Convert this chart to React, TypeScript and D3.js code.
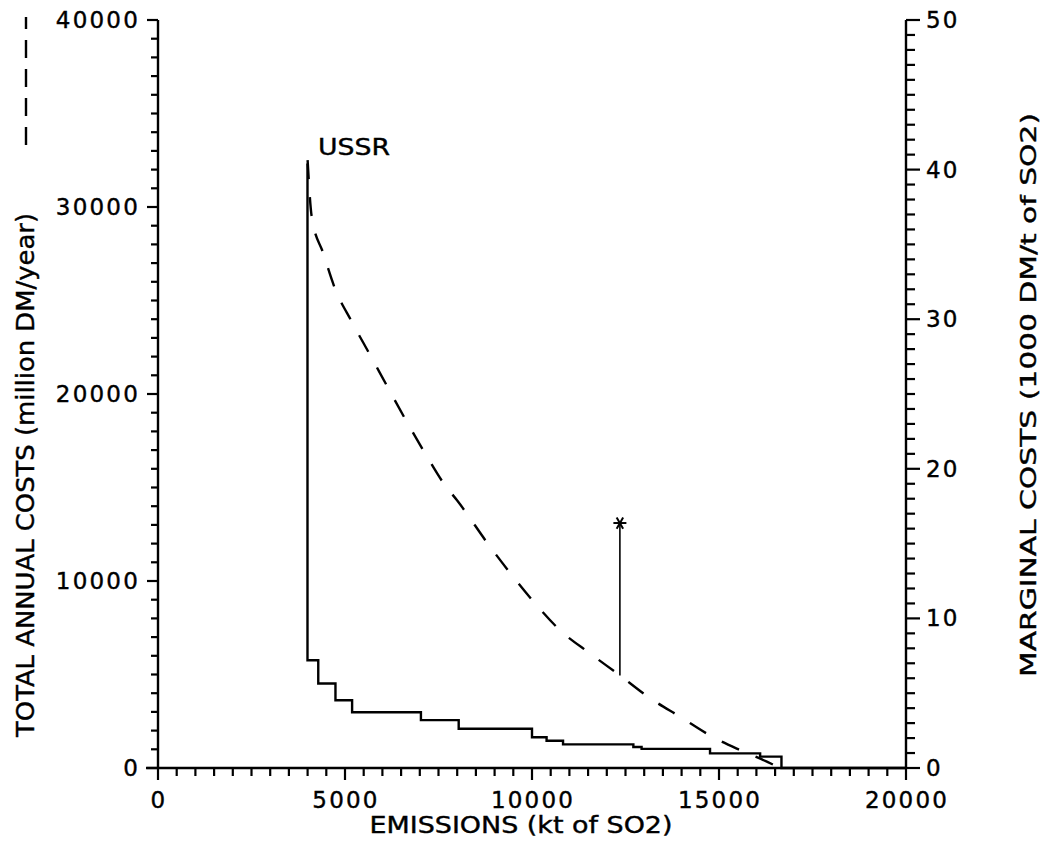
import React from "react";
import * as d3 from "d3";

// Marginal cost curve (right axis, 1000 DM/t of SO2), step function
const marginalX = [3997, 3997, 4285, 4745, 5190, 7030, 8040, 10000, 10390, 10830, 12710, 12930, 14760, 16100, 16670, 20000];
const marginalY = [40.4, 7.2, 5.65, 4.53, 3.73, 3.2, 2.62, 2.06, 1.82, 1.58, 1.4, 1.28, 0.98, 0.76, 0, 0];

// Total annual cost curve (left axis, million DM/year), dashed
const totalX = [4000, 4110, 4420, 4730, 5180, 5670, 6160, 6650, 7140, 7670, 7990, 8880, 9460, 10080, 10790, 11550, 12350, 13160, 13960, 14850, 15560, 16280, 16630];
const totalY = [32510, 29480, 27520, 25650, 23870, 22090, 20300, 18520, 16830, 15130, 14330, 11830, 10320, 8810, 7290, 6130, 4950, 3730, 2740, 1640, 960, 340, 0];

// Marked point (asterisk) and its connection to the total cost curve
const markX = 12350;
const markTop = 13100;
const markBottom = 4950;

const xTicksMajor = [0, 5000, 10000, 15000, 20000];
const leftTicksMajor = [0, 10000, 20000, 30000, 40000];
const rightTicksMajor = [0, 10, 20, 30, 40, 50];

const labelUSSR = "USSR";
const xTitle = "EMISSIONS (kt of SO2)";
const leftTitle = "TOTAL ANNUAL COSTS (million DM/year)";
const rightTitle = "MARGINAL COSTS (1000 DM/t of SO2)";

export default function App() {
  const L = 158, R = 906, T = 20, B = 768;
  const x = d3.scaleLinear().domain([0, 20000]).range([L, R]);
  const yL = d3.scaleLinear().domain([0, 40000]).range([B, T]);
  const yR = d3.scaleLinear().domain([0, 50]).range([B, T]);

  const stepLine = d3
    .line<number>()
    .x((_, i) => x(marginalX[i]))
    .y((d) => yR(d))
    .curve(d3.curveStepAfter);
  const totalLine = d3
    .line<number>()
    .x((_, i) => x(totalX[i]))
    .y((d) => yL(d))
    .curve(d3.curveMonotoneX);

  const font = "DejaVu Sans, Liberation Sans, sans-serif";
  const tickFont = { fontFamily: font, fontSize: 23, letterSpacing: 2.2, stroke: "#000", strokeWidth: 0.4 } as const;

  const xMinor = d3.range(0, 20001, 500);
  const lMinor = d3.range(0, 40001, 1000);
  const rMinor = d3.range(0, 51, 1);

  const axp = x(markX);
  const ay = yL(markTop);
  const ar = 6.5;

  return (
    <svg width={1044} height={844} style={{ position: "absolute", left: 0, top: 0, background: "#fff" }}>
      <rect width={1044} height={844} fill="#fff" />
      {/* axes lines */}
      <g stroke="#000" strokeWidth={2.4} fill="none">
        <line x1={x(0) - 12} x2={x(20000)} y1={B} y2={B} />
        <line x1={L} x2={L} y1={yL(0)} y2={yL(40000)} />
        <line x1={R} x2={R} y1={yR(0)} y2={yR(50)} />
      </g>
      {/* ticks */}
      <g stroke="#000" strokeWidth={2.2}>
        {xMinor.map((v) => (
          <line key={"xm" + v} x1={x(v)} x2={x(v)} y1={B} y2={B + (v % 5000 === 0 ? 12 : 8)} />
        ))}
        {lMinor.map((v) => (
          <line key={"lm" + v} x1={L} x2={L - (v % 10000 === 0 ? 11 : 7)} y1={yL(v)} y2={yL(v)} />
        ))}
        {rMinor.map((v) => (
          <line key={"rm" + v} x1={R} x2={R + (v % 10 === 0 ? 14 : 9)} y1={yR(v)} y2={yR(v)} />
        ))}
      </g>
      {/* tick labels */}
      <g {...tickFont} fill="#000">
        {xTicksMajor.map((v) => (
          <text key={"xl" + v} x={x(v) + 1} y={808} textAnchor="middle">
            {v}
          </text>
        ))}
        {leftTicksMajor.map((v) => (
          <text key={"ll" + v} x={140} y={yL(v) + 8} textAnchor="end">
            {v}
          </text>
        ))}
        {rightTicksMajor.map((v) => (
          <text key={"rl" + v} x={926} y={yR(v) + 8} textAnchor="start">
            {v}
          </text>
        ))}
      </g>
      {/* titles */}
      <text x={521} y={833} textAnchor="middle" fontFamily={font} fontSize={23} stroke="#000" strokeWidth={0.4} textLength={303} lengthAdjust="spacingAndGlyphs">
        {xTitle}
      </text>
      <text
        transform={`translate(34,${(737 + 213) / 2}) rotate(-90)`}
        textAnchor="middle"
        fontFamily={font}
        fontSize={25}
        stroke="#000"
        strokeWidth={0.4}
        textLength={524}
        lengthAdjust="spacingAndGlyphs"
      >
        {leftTitle}
      </text>
      <line x1={26} x2={26} y1={145} y2={17} stroke="#000" strokeWidth={2.4} strokeDasharray="18,11" />
      <text
        transform={`translate(1036,${(677 + 113) / 2}) rotate(-90)`}
        textAnchor="middle"
        fontFamily={font}
        fontSize={22}
        stroke="#000"
        strokeWidth={0.4}
        textLength={564}
        lengthAdjust="spacingAndGlyphs"
      >
        {rightTitle}
      </text>
      {/* curves */}
      <path d={stepLine(marginalY) || ""} fill="none" stroke="#000" strokeWidth={2.4} />
      <path d={totalLine(totalY) || ""} fill="none" stroke="#000" strokeWidth={2.4} strokeDasharray="19,18" />
      {/* marked point */}
      <line x1={axp} x2={axp} y1={ay} y2={yL(markBottom)} stroke="#000" strokeWidth={1.6} />
      <g stroke="#000" strokeWidth={2}>
        {[0, 60, 120].map((a) => {
          const r = (a * Math.PI) / 180;
          return (
            <line
              key={a}
              x1={axp - ar * Math.cos(r)}
              x2={axp + ar * Math.cos(r)}
              y1={ay - ar * Math.sin(r)}
              y2={ay + ar * Math.sin(r)}
            />
          );
        })}
      </g>
      <text x={318} y={155} fontFamily={font} fontSize={23} stroke="#000" strokeWidth={0.4} textLength={72} lengthAdjust="spacingAndGlyphs">
        {labelUSSR}
      </text>
    </svg>
  );
}
